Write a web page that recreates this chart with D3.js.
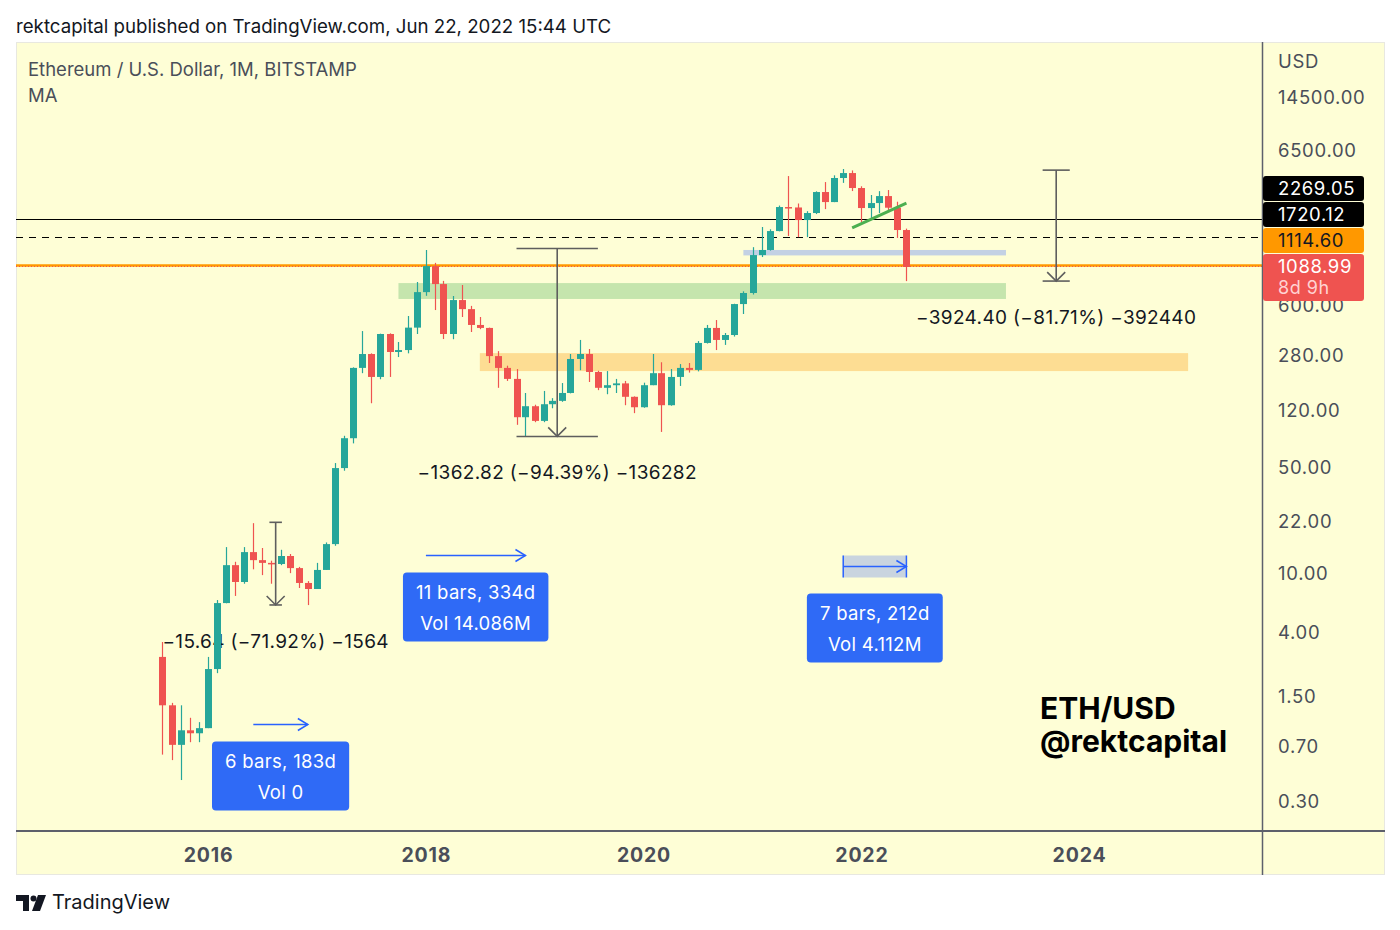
<!DOCTYPE html>
<html>
<head>
<meta charset="utf-8">
<script src="https://cdn.jsdelivr.net/npm/d3@7"></script>
<style>
  body { margin: 0; background: #fff; }
  svg text { font-family: Inter, "Noto Sans", sans-serif; }
</style>
</head>
<body>
<svg id="chart" width="1400" height="930"></svg>
<script>
// ETH/USD monthly candles, BITSTAMP
var months = [
  '2015-08','2015-09','2015-10','2015-11','2015-12',
  '2016-01','2016-02','2016-03','2016-04','2016-05','2016-06','2016-07','2016-08','2016-09','2016-10','2016-11','2016-12',
  '2017-01','2017-02','2017-03','2017-04','2017-05','2017-06','2017-07','2017-08','2017-09','2017-10','2017-11','2017-12',
  '2018-01','2018-02','2018-03','2018-04','2018-05','2018-06','2018-07','2018-08','2018-09','2018-10','2018-11','2018-12',
  '2019-01','2019-02','2019-03','2019-04','2019-05','2019-06','2019-07','2019-08','2019-09','2019-10','2019-11','2019-12',
  '2020-01','2020-02','2020-03','2020-04','2020-05','2020-06','2020-07','2020-08','2020-09','2020-10','2020-11','2020-12',
  '2021-01','2021-02','2021-03','2021-04','2021-05','2021-06','2021-07','2021-08','2021-09','2021-10','2021-11','2021-12',
  '2022-01','2022-02','2022-03','2022-04','2022-05','2022-06'
]
var opens = [
  2.77, 1.32, 0.72, 0.90, 0.86,
  0.93, 2.30, 6.32, 11.3, 8.73, 13.8, 12.2, 11.7, 11.5, 13.0, 10.8, 8.6,
  7.84, 10.5, 15.6, 50, 79, 232, 287, 202, 390, 296, 305, 430,
  741, 1104, 838, 390, 656, 571, 448, 428, 278, 232, 196, 109,
  129, 103, 133, 140, 158, 266, 287, 218, 171, 178, 183, 149,
  127, 178, 214, 131, 202, 232, 225, 340, 428, 356, 384, 617,
  731, 1307, 1413, 1888, 2728, 2710, 2235, 2489, 3433, 2944, 4256, 4592,
  3650, 2686, 2900, 3227, 2700, 1918
]
var highs = [
  3.48, 1.37, 1.32, 1.09, 1.02,
  2.77, 6.62, 14.9, 11.9, 14.9, 21.5, 14.7, 12.1, 14.3, 13.4, 11.0, 8.85,
  11.7, 16.0, 54, 82, 234, 408, 290, 392, 394, 345, 514, 865,
  1412, 1160, 880, 698, 826, 600, 506, 430, 300, 240, 228, 158,
  132, 163, 146, 184, 287, 356, 310, 222, 221, 196, 190, 150,
  185, 287, 253, 228, 246, 250, 350, 448, 483, 396, 620, 750,
  1475, 2010, 1940, 2790, 4385, 2880, 2560, 3470, 4000, 4435, 4887, 4780,
  3750, 3280, 3480, 3540, 2960, 1960
]
var lows = [
  0.62, 0.57, 0.42, 0.75, 0.75,
  0.93, 2.16, 6.3, 7.05, 8.5, 10.6, 9.7, 8.5, 11.3, 10.0, 7.96, 6.13,
  7.84, 10.5, 15.2, 48, 73, 214, 135, 195, 202, 274, 290, 390,
  700, 563, 361, 360, 506, 402, 420, 250, 171, 190, 97, 81,
  101, 101, 125, 138, 157, 224, 187, 165, 155, 158, 131, 116,
  126, 178, 87, 130, 176, 216, 220, 337, 305, 330, 375, 530,
  714, 1268, 1400, 1880, 1750, 1720, 1720, 2450, 2643, 2940, 3950, 3485,
  2168, 2235, 2489, 2605, 1700, 877
]
var closes = [
  1.32, 0.72, 0.90, 0.86, 0.93,
  2.30, 6.32, 11.3, 8.73, 13.8, 12.2, 11.7, 11.5, 13.0, 10.8, 8.6, 7.84,
  10.5, 15.6, 50, 79, 232, 287, 202, 390, 296, 305, 430, 741,
  1104, 838, 390, 656, 571, 448, 428, 278, 232, 196, 109, 129,
  103, 133, 140, 158, 266, 287, 218, 171, 178, 183, 149, 127,
  178, 214, 131, 202, 232, 225, 340, 428, 356, 384, 617, 731,
  1307, 1413, 1888, 2728, 2710, 2235, 2489, 3433, 2944, 4256, 4592, 3650,
  2686, 2900, 3227, 2700, 1918, 1088.99
]

var yTicks = [14500, 6500, 600, 280, 120, 50, 22, 10, 4, 1.5, 0.70, 0.30]
var xTicks = ['2016', '2018', '2020', '2022', '2024']

// horizontal price lines + their axis tags
var levelValues = [2269.05, 1720.12, 1114.60, 1088.99]
var countdown = '8d 9h'

// rectangles drawn on the chart: [start, end, low price, high price]
var zoneStarts = ['2020-12-01', '2017-10-01', '2018-07-01']
var zoneEnds   = ['2023-05-01', '2023-05-01', '2025-01-01']
var zoneLows   = [1300, 667, 221]
var zoneHighs  = [1413, 851, 291]

// price range tools
var measureStarts = ['2016-07-25', '2018-11-01', '2023-09-01']
var measureEnds   = ['2016-09-05', '2019-08-01', '2023-12-01']
var measureTops   = [21.78, 1444.02, 4802.0]
var measureBottoms= [6.14, 81.2, 877.6]
var measureLabels = ['−15.64 (−71.92%) −1564', '−1362.82 (−94.39%) −136282', '−3924.40 (−81.71%) −392440']

// date range tools
var rangeStarts = ['2016-06-01', '2018-01-01', '2021-11-01']
var rangeEnds   = ['2016-12-01', '2018-12-01', '2022-06-01']
var rangePrices = [0.99, 13.2, 11.1]
var rangeBars   = ['6 bars, 183d', '11 bars, 334d', '7 bars, 212d']
var rangeVols   = ['Vol 0', 'Vol 14.086M', 'Vol 4.112M']

// green trend line
var trendDates = ['2021-12-01', '2022-06-01']
var trendPrices = [1980, 2900]

var parseMonth = d3.utcParse('%Y-%m')
var parseDay = d3.utcParse('%Y-%m-%d')
var parseYear = d3.utcParse('%Y')

var bg = '#fefed6'
var up = '#26a69a', down = '#ef5350'
var textCol = '#4a4e59'
var plot = {left: 16, right: 1262, top: 42, bottom: 831}

var svg = d3.select('#chart')

// frame
svg.append('rect').attr('x', 16.5).attr('y', 42.5).attr('width', 1368).attr('height', 832)
  .attr('fill', bg).attr('stroke', '#e8e8e0')

svg.append('text').attr('x', 16).attr('y', 33).attr('font-size', 18.7).attr('fill', '#131722')
  .text('rektcapital published on TradingView.com, Jun 22, 2022 15:44 UTC')

var x = d3.scaleUtc()
  .domain([parseYear('2016'), parseYear('2024')])
  .range([208, 1079])
var y = d3.scaleLog()
  .domain([0.3, 14500])
  .range([802, 98])

svg.append('clipPath').attr('id', 'clip')
  .append('rect').attr('x', plot.left).attr('y', plot.top)
  .attr('width', plot.right - plot.left).attr('height', plot.bottom - plot.top)

var g = svg.append('g').attr('clip-path', 'url(#clip)')

// zones
var zoneFills = ['#b8c9e6', '#bfe2a8', '#fdd98c']
zoneStarts.forEach(function(s, i){
  g.append('rect')
    .attr('x', x(parseDay(s))).attr('width', x(parseDay(zoneEnds[i])) - x(parseDay(s)))
    .attr('y', y(zoneHighs[i])).attr('height', y(zoneLows[i]) - y(zoneHighs[i]))
    .attr('fill', zoneFills[i]).attr('opacity', i == 0 ? 0.85 : 0.9)
})

// price lines
function lvl(v){ return Math.round(y(v)) + 0.5 }
g.append('line').attr('x1', plot.left).attr('x2', plot.right)
  .attr('y1', lvl(levelValues[0])).attr('y2', lvl(levelValues[0]))
  .attr('stroke', '#000').attr('stroke-width', 1.2)
g.append('line').attr('x1', plot.left).attr('x2', plot.right)
  .attr('y1', lvl(levelValues[1])).attr('y2', lvl(levelValues[1]))
  .attr('stroke', '#000').attr('stroke-width', 1.2).attr('stroke-dasharray', '7 6')
g.append('line').attr('x1', plot.left).attr('x2', plot.right)
  .attr('y1', y(levelValues[2])).attr('y2', y(levelValues[2]))
  .attr('stroke', '#ff9800').attr('stroke-width', 2.5)
g.append('line').attr('x1', plot.left).attr('x2', plot.right)
  .attr('y1', y(levelValues[3]) - 0.5).attr('y2', y(levelValues[3]) - 0.5)
  .attr('stroke', down).attr('stroke-width', 1).attr('stroke-dasharray', '1 2')

// measure labels (they sit under the candles)
measureLabels.forEach(function(t, i){
  var cx = (x(parseDay(measureStarts[i])) + x(parseDay(measureEnds[i]))) / 2
  g.append('text').attr('x', cx).attr('y', y(measureBottoms[i]) + 36).attr('dy', '0.35em')
    .attr('text-anchor', 'middle').attr('font-size', 19).attr('letter-spacing', 0.35)
    .attr('fill', '#131722').text(t)
})

// candles
var candles = months.map(function(m, i){
  return {date: parseMonth(m), o: opens[i], h: highs[i], l: lows[i], c: closes[i]}
})
var cg = g.selectAll('g.candle').data(candles).join('g').attr('class', 'candle')
cg.append('line')
  .attr('x1', d => Math.round(x(d.date)) + 0.5).attr('x2', d => Math.round(x(d.date)) + 0.5)
  .attr('y1', d => y(d.h)).attr('y2', d => y(d.l))
  .attr('stroke', d => d.c >= d.o ? up : down).attr('stroke-width', 1.2)
cg.append('rect')
  .attr('x', d => Math.round(x(d.date)) - 3)
  .attr('width', 7)
  .attr('y', d => y(Math.max(d.o, d.c)))
  .attr('height', d => Math.max(1.5, Math.abs(y(d.o) - y(d.c))))
  .attr('fill', d => d.c >= d.o ? up : down)

// price range tools
measureStarts.forEach(function(s, i){
  var x0 = x(parseDay(s)), x1 = x(parseDay(measureEnds[i])), cx = (x0 + x1) / 2
  var yt = y(measureTops[i]), yb = y(measureBottoms[i])
  var mg = g.append('g').attr('stroke', '#5e5e5e').attr('stroke-width', 1.6).attr('fill', 'none')
  mg.append('line').attr('x1', x0).attr('x2', x1).attr('y1', yt).attr('y2', yt)
  mg.append('line').attr('x1', cx).attr('x2', cx).attr('y1', yt).attr('y2', yb)
  mg.append('line').attr('x1', x0).attr('x2', x1).attr('y1', yb).attr('y2', yb)
  mg.append('path').attr('d', 'M' + (cx - 9) + ',' + (yb - 9) + 'L' + cx + ',' + yb + 'L' + (cx + 9) + ',' + (yb - 9))
})

// trend line
g.append('line')
  .attr('x1', x(parseDay(trendDates[0]))).attr('y1', y(trendPrices[0]))
  .attr('x2', x(parseDay(trendDates[1]))).attr('y2', y(trendPrices[1]))
  .attr('stroke', '#4caf50').attr('stroke-width', 3)

// date range tools
rangeStarts.forEach(function(s, i){
  var x0 = x(parseDay(s)), x1 = x(parseDay(rangeEnds[i])), cx = (x0 + x1) / 2
  var ya = Math.round(y(rangePrices[i])) + 0.5
  var rg = g.append('g')
  var boxTop = ya + 17
  if (i == 2) {
    rg.append('rect').attr('x', x0).attr('width', x1 - x0).attr('y', ya - 11).attr('height', 22)
      .attr('fill', '#c3cfe0').attr('opacity', 0.9)
    rg.append('line').attr('x1', x0).attr('x2', x0).attr('y1', ya - 11).attr('y2', ya + 11)
      .attr('stroke', '#2962ff').attr('stroke-width', 1.5)
    rg.append('line').attr('x1', x1).attr('x2', x1).attr('y1', ya - 11).attr('y2', ya + 11)
      .attr('stroke', '#2962ff').attr('stroke-width', 1.5)
    boxTop = ya + 27
  }
  rg.append('line').attr('x1', x0).attr('x2', x1).attr('y1', ya).attr('y2', ya)
    .attr('stroke', '#2962ff').attr('stroke-width', 1.5)
  rg.append('path').attr('d', 'M' + (x1 - 10) + ',' + (ya - 6) + 'L' + x1 + ',' + ya + 'L' + (x1 - 10) + ',' + (ya + 6))
    .attr('stroke', '#2962ff').attr('stroke-width', 1.5).attr('fill', 'none')
  var box = rg.append('rect').attr('y', boxTop).attr('height', 69).attr('rx', 4).attr('fill', '#2f6af6')
  var t1 = rg.append('text').attr('x', cx).attr('y', boxTop + 20).attr('dy', '0.35em')
    .attr('text-anchor', 'middle').attr('font-size', 18.5).attr('letter-spacing', 0.3)
    .attr('fill', '#fff').text(rangeBars[i])
  var t2 = rg.append('text').attr('x', cx).attr('y', boxTop + 51).attr('dy', '0.35em')
    .attr('text-anchor', 'middle').attr('font-size', 18.5).attr('letter-spacing', 0.3)
    .attr('fill', '#fff').text(rangeVols[i])
  var w = Math.max(t1.node().getComputedTextLength(), t2.node().getComputedTextLength()) + 26
  box.attr('x', cx - w / 2).attr('width', w)
})

// watermark
svg.append('text').attr('x', 1040).attr('y', 719).attr('font-size', 30).attr('font-weight', 700)
  .attr('fill', '#000').text('ETH/USD')
svg.append('text').attr('x', 1040).attr('y', 752).attr('font-size', 30).attr('font-weight', 700)
  .attr('fill', '#000').text('@rektcapital')

// legend
svg.append('text').attr('x', 28).attr('y', 76).attr('font-size', 18.5).attr('fill', textCol)
  .text('Ethereum / U.S. Dollar, 1M, BITSTAMP')
svg.append('text').attr('x', 28).attr('y', 102).attr('font-size', 18.5).attr('fill', textCol).text('MA')

// axes
var gx = svg.append('g').attr('transform', 'translate(0,' + plot.bottom + ')')
  .call(d3.axisBottom(x).tickValues(xTicks.map(parseYear)).tickFormat(d3.utcFormat('%Y')).tickSize(0).tickPadding(17))
gx.select('.domain').remove()
gx.selectAll('text').attr('font-size', 19.5).attr('font-weight', 700).attr('letter-spacing', 0.8)
  .attr('fill', textCol).style('font-family', 'Inter, sans-serif')

var gy = svg.append('g').attr('transform', 'translate(' + plot.right + ',0)')
  .call(d3.axisRight(y).tickValues(yTicks).tickFormat(d3.format('.2f')).tickSize(0).tickPadding(16))
gy.select('.domain').remove()
gy.selectAll('text').attr('font-size', 18.5).attr('letter-spacing', 0.7).attr('fill', textCol)
  .style('font-family', 'Inter, sans-serif')

svg.append('text').attr('x', 1278).attr('y', 62).attr('dy', '0.35em').attr('font-size', 18.5)
  .attr('letter-spacing', 0.7).attr('fill', textCol).text('USD')

svg.append('line').attr('x1', 16).attr('x2', 1385).attr('y1', plot.bottom).attr('y2', plot.bottom)
  .attr('stroke', '#5d606b').attr('stroke-width', 2)
svg.append('line').attr('x1', plot.right + 0.5).attr('x2', plot.right + 0.5).attr('y1', 42).attr('y2', 875)
  .attr('stroke', '#5d606b').attr('stroke-width', 1.5)

// axis tags for the price lines, stacked so they don't overlap
var tagFills = ['#000', '#000', '#ff9800', down]
var tagText = ['#fff', '#fff', '#131722', '#fff']
var tags = levelValues.map(function(v, i){
  return {v: v, i: i, h: i == 3 ? 47 : 25}
}).sort(function(a, b){ return y(b.v) - y(a.v) })
var limit = Infinity
tags.forEach(function(t){
  var top = y(t.v) - 12.5
  if (t.i == 3) top = y(t.v) - 13
  if (top + t.h > limit) top = limit - t.h
  t.top = top
  limit = top - 1
})
var tg = svg.append('g')
tags.forEach(function(t){
  tg.append('rect').attr('x', plot.right + 1).attr('y', t.top).attr('width', 101).attr('height', t.h)
    .attr('rx', 3).attr('fill', tagFills[t.i])
  tg.append('text').attr('x', 1278).attr('y', t.top + 12.5).attr('dy', '0.35em').attr('font-size', 18.5)
    .attr('letter-spacing', 0.6).attr('fill', tagText[t.i]).text(d3.format('.2f')(t.v))
  if (t.i == 3) {
    tg.append('text').attr('x', 1278).attr('y', t.top + 34).attr('dy', '0.35em').attr('font-size', 18)
      .attr('letter-spacing', 0.5).attr('fill', '#ffd2d2').text(countdown)
  }
})

// TradingView logo
var logo = svg.append('g').attr('fill', '#131722')
logo.append('path').attr('d', 'M16,895H29V911H23V901H16Z')
logo.append('circle').attr('cx', 33.5).attr('cy', 898.5).attr('r', 3)
logo.append('path').attr('d', 'M38,895H46L40,911H32Z')
svg.append('text').attr('x', 52).attr('y', 909).attr('font-size', 20).attr('fill', '#131722').text('TradingView')
</script>
</body>
</html>
